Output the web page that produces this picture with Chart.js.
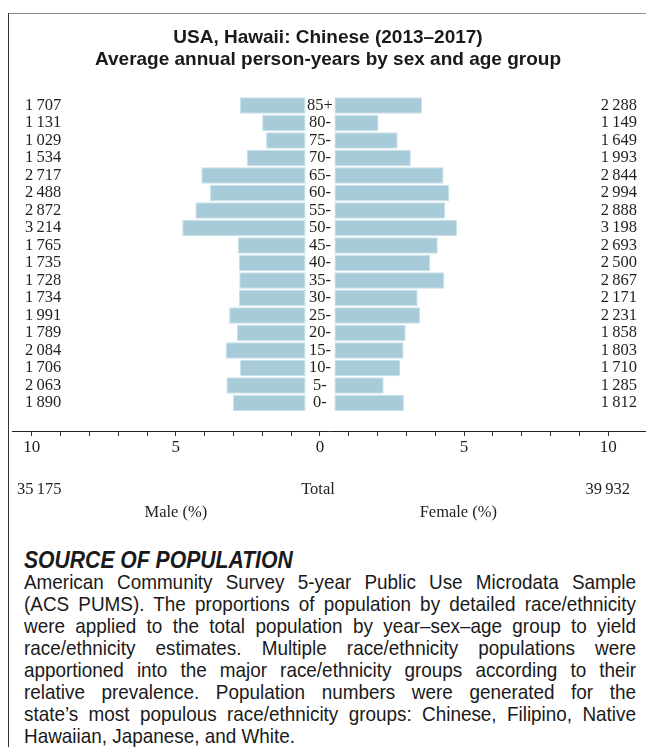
<!DOCTYPE html>
<html>
<head>
<meta charset="utf-8">
<script src="https://cdn.jsdelivr.net/npm/chart.js@4/dist/chart.umd.min.js"></script>
<style>
  html, body { margin: 0; padding: 0; background: #fff; }
  body { width: 646px; height: 747px; position: relative; overflow: hidden; }
  #frameTop { position: absolute; left: 8px; right: 0; top: 13px; border-top: 1.5px solid #8c8c8c; }
  #frameLeft { position: absolute; left: 7.5px; top: 13px; bottom: 0; width: 1px; background: #333; }
  #title { position: absolute; left: 10px; right: 0; top: 26px; text-align: center;
           font: bold 19px "Liberation Sans", Arial, sans-serif; line-height: 22px; color: #1a1a1a; }
  #chart { position: absolute; left: 0; top: 0; }
  /* the source note is set in a condensed face: squeeze a regular one */
  #source { position: absolute; left: 24px; top: 549px; width: 680px; color: #1a1a1a;
            transform: scaleX(0.9); transform-origin: 0 0;
            font: 21px "Liberation Sans", Arial, sans-serif; }
  #source h2 { margin: 0; font: italic bold 23.5px "Liberation Sans", Arial, sans-serif; line-height: 22px; }
  #source .ln { white-space: nowrap; text-align: justify; text-align-last: justify; line-height: 22px; }
  #source .ln.last { text-align-last: left; }
</style>
</head>
<body>
<canvas id="chart" width="646" height="530"></canvas>
<div id="frameTop"></div>
<div id="frameLeft"></div>
<div id="title">USA, Hawaii: Chinese (2013–2017)<br>Average annual person-years by sex and age group</div>
<div id="source">
  <h2>SOURCE OF POPULATION</h2>
  <div class="ln">American Community Survey 5-year Public Use Microdata Sample</div>
  <div class="ln">(ACS PUMS). The proportions of population by detailed race/ethnicity</div>
  <div class="ln">were applied to the total population by year–sex–age group to yield</div>
  <div class="ln">race/ethnicity estimates. Multiple race/ethnicity populations were</div>
  <div class="ln">apportioned into the major race/ethnicity groups according to their</div>
  <div class="ln">relative prevalence. Population numbers were generated for the</div>
  <div class="ln">state’s most populous race/ethnicity groups: Chinese, Filipino, Native</div>
  <div class="ln last">Hawaiian, Japanese, and White.</div>
</div>
<script>
// age groups, oldest first (top of pyramid)
const ageGroups = ["85+", "80-", "75-", "70-", "65-", "60-", "55-", "50-", "45-",
                   "40-", "35-", "30-", "25-", "20-", "15-", "10-", "5-", "0-"];

// average annual person-years
const male = [1707, 1131, 1029, 1534, 2717, 2488, 2872, 3214, 1765,
              1735, 1728, 1734, 1991, 1789, 2084, 1706, 2063, 1890];
const female = [2288, 1149, 1649, 1993, 2844, 2994, 2888, 3198, 2693,
                2500, 2867, 2171, 2231, 1858, 1803, 1710, 1285, 1812];

const maleTotal = 35175;
const femaleTotal = 39932;

const axisTicks = [-10, -9, -8, -7, -6, -5, -4, -3, -2, -1, 0, 1, 2, 3, 4, 5, 6, 7, 8, 9, 10];

// bars start a little off the centre line, leaving room for the age labels
const GAP = 0.5;
const grand = maleTotal + femaleTotal;
const pct = n => n / grand * 100;

// 35175 -> "35 175" with a thin space
const fmt = n => String(n).replace(/\B(?=(\d{3})+(?!\d))/g, "\u2009");

const SERIF = '"Liberation Serif", "Times New Roman", serif';
const INK = "#1f1f1f";

const labelsPlugin = {
  id: "pyramidLabels",
  afterDatasetsDraw(chart) {
    const { ctx, scales: { x, y } } = chart;
    const cx = x.getPixelForValue(0);
    ctx.save();
    ctx.fillStyle = INK;
    ctx.textBaseline = "middle";
    ctx.font = "16.5px " + SERIF;
    ageGroups.forEach((a, i) => {
      const py = y.getPixelForValue(i);
      ctx.textAlign = "center";
      ctx.fillText(a, cx, py);
      ctx.textAlign = "left";
      ctx.fillText(fmt(male[i]), 25, py);
      ctx.textAlign = "right";
      ctx.fillText(fmt(female[i]), 637, py);
    });

    // totals and axis names under the scale
    ctx.textAlign = "left";
    ctx.fillText(fmt(maleTotal), 17, 490);
    ctx.textAlign = "right";
    ctx.fillText(fmt(femaleTotal), 630, 490);
    ctx.textAlign = "center";
    ctx.fillText("Total", cx - 2, 490);
    ctx.fillText("Male (%)", x.getPixelForValue(-5), 513);
    ctx.fillText("Female (%)", x.getPixelForValue(4.8), 513);
    ctx.restore();
  }
};

const barStyle = {
  backgroundColor: "rgb(167,203,216)",
  borderColor: "rgb(200,224,232)",
  borderWidth: 1,
  borderSkipped: false,
  barPercentage: 0.94,
  categoryPercentage: 1,
  grouped: false
};

new Chart(document.getElementById("chart"), {
  type: "bar",
  data: {
    datasets: [
      { label: "Male", ...barStyle,
        data: male.map((v, i) => ({ y: i, x: [-(GAP + pct(v)), -GAP] })) },
      { label: "Female", ...barStyle,
        data: female.map((v, i) => ({ y: i, x: [GAP, GAP + pct(v)] })) }
    ]
  },
  plugins: [labelsPlugin],
  options: {
    indexAxis: "y",
    responsive: false,
    animation: false,
    layout: { padding: { left: 12.7, right: 0, top: 96.75, bottom: 0 } },
    plugins: { legend: { display: false }, tooltip: { enabled: false }, title: { display: false } },
    scales: {
      y: { type: "linear", reverse: true, offset: false, min: -0.5, max: 18.6, display: false },
      x: {
        type: "linear", min: -10.66, max: 11.31,
        afterBuildTicks: s => { s.ticks = axisTicks.map(v => ({ value: v })); },
        afterFit: s => { s.height = 99; },
        border: { display: true, color: "#222", width: 1 },
        grid: { drawOnChartArea: false, drawTicks: true, tickLength: 5, color: "#333", lineWidth: 1 },
        ticks: {
          padding: 1, color: INK, maxRotation: 0, autoSkip: false,
          font: { family: SERIF, size: 17 },
          callback: v => (v % 5 === 0 ? String(Math.abs(v)) : "")
        }
      }
    }
  }
});
</script>
</body>
</html>
